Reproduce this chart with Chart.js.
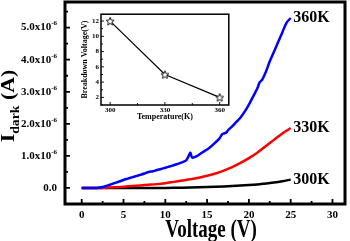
<!DOCTYPE html>
<html>
<head>
<meta charset="utf-8">
<script src="https://cdn.jsdelivr.net/npm/chart.js@4/dist/chart.umd.min.js"></script>
<style>
  html, body { margin: 0; padding: 0; background: #fff; }
  #wrap { position: relative; width: 350px; height: 241px; }
  #main { position: absolute; left: 0; top: 0; }
  #inset { position: absolute; left: 78px; top: 8px; }
</style>
</head>
<body>
<div id="wrap">
  <canvas id="main" width="350" height="241"></canvas>
  <canvas id="inset" width="157" height="114"></canvas>
</div>
<script>
// 주 그래프 데이터 (전압 V, 암전류 단위 10^-6 A)
const v360 = [0, 0.5, 1, 1.5, 2, 2.5, 3, 3.5, 4, 4.5, 5, 5.5, 6, 6.5, 7, 7.5, 8, 8.5, 9, 9.5, 10, 10.5, 11, 11.5, 12, 12.5, 12.8, 13.0, 13.2, 13.5, 14, 14.5, 15, 15.5, 16, 16.5, 16.8, 17, 17.3, 17.5, 18, 18.5, 19, 19.5, 20, 20.5, 21, 21.3, 21.6, 22, 22.5, 23, 23.5, 24, 24.5, 25];
const i360 = [0, 0, 0, 0, 0.01, 0.03, 0.07, 0.11, 0.16, 0.2, 0.25, 0.29, 0.33, 0.37, 0.41, 0.45, 0.5, 0.52, 0.56, 0.59, 0.63, 0.67, 0.71, 0.75, 0.8, 0.86, 1.0, 1.1, 0.95, 0.96, 1.03, 1.12, 1.2, 1.3, 1.42, 1.55, 1.68, 1.7, 1.73, 1.8, 1.92, 2.06, 2.2, 2.38, 2.6, 2.85, 3.1, 3.3, 3.38, 3.6, 3.95, 4.25, 4.55, 4.85, 5.15, 5.3];

const v330 = [0, 1, 2, 3, 4, 5, 6, 7, 8, 9, 10, 11, 12, 13, 14, 15, 16, 17, 18, 19, 20, 21, 22, 23, 24, 25];
const i330 = [0, 0, 0, 0.01, 0.02, 0.04, 0.06, 0.08, 0.1, 0.12, 0.15, 0.19, 0.23, 0.27, 0.32, 0.38, 0.45, 0.54, 0.65, 0.78, 0.93, 1.1, 1.3, 1.5, 1.7, 1.87];

const v300 = [0, 2, 4, 6, 8, 10, 12, 14, 16, 18, 20, 21, 22, 23, 24, 25];
const i300 = [0, 0, 0, 0, 0, 0, 0.01, 0.02, 0.04, 0.06, 0.09, 0.11, 0.14, 0.17, 0.21, 0.26];

const seriesNames = ['360K', '330K', '300K'];
const seriesColors = ['#0000ff', '#ff0000', '#000000'];

// 인셋 데이터
const insetTemps = [300, 330, 360];
const insetBreakdown = [12, 5, 2];

const xTicks = [0, 5, 10, 15, 20, 25, 30];
const yTicks = [0, 1, 2, 3, 4, 5];

const SERIF = '"Liberation Serif", "Times New Roman", serif';

function toPoints(xs, ys) {
    return xs.map((x, i) => ({ x: x, y: ys[i] }));
}

// 테두리 + 안쪽 눈금
function drawFrame(chart, lw, xStep, yStep, xMinor, yMinor, major, minor) {
    const ctx = chart.ctx;
    const a = chart.chartArea;
    const xs = chart.scales.x, ys = chart.scales.y;
    ctx.save();
    ctx.strokeStyle = '#000';
    ctx.lineWidth = lw * 0.6;
    ctx.beginPath();
    for (let v = Math.ceil(xs.min / xMinor) * xMinor; v <= xs.max; v += xMinor) {
        const px = xs.getPixelForValue(v);
        const len = Math.abs(v / xStep - Math.round(v / xStep)) < 1e-6 ? major : minor;
        ctx.moveTo(px, a.bottom);
        ctx.lineTo(px, a.bottom - len);
    }
    for (let v = Math.ceil(ys.min / yMinor) * yMinor; v <= ys.max; v += yMinor) {
        const py = ys.getPixelForValue(v);
        const len = Math.abs(v / yStep - Math.round(v / yStep)) < 1e-6 ? major : minor;
        ctx.moveTo(a.left, py);
        ctx.lineTo(a.left + len, py);
    }
    ctx.stroke();
    ctx.lineWidth = lw;
    ctx.strokeRect(a.left, a.top, a.right - a.left, a.bottom - a.top);
    ctx.restore();
}

const mainPlugin = {
    id: 'mainDecor',
    afterDraw(chart) {
        const ctx = chart.ctx;
        const ys = chart.scales.y, xs = chart.scales.x;
        drawFrame(chart, 3, 5, 1, 2.5, 0.5, 5, 3);

        // y 눈금 라벨 (지수 표기)
        ctx.save();
        ctx.fillStyle = '#000';
        ctx.textBaseline = 'middle';
        yTicks.forEach(v => {
            const py = ys.getPixelForValue(v);
            if (v === 0) {
                ctx.font = 'bold 11px ' + SERIF;
                ctx.textAlign = 'right';
                ctx.fillText('0.0', 57, py);
            } else {
                ctx.font = 'bold 7px ' + SERIF;
                const sup = '-6';
                const sw = ctx.measureText(sup).width;
                ctx.textAlign = 'right';
                ctx.fillText(sup, 57, py - 4);
                ctx.font = 'bold 11px ' + SERIF;
                ctx.fillText(v.toFixed(1) + 'x10', 57 - sw, py);
            }
        });

        // 시리즈 라벨
        ctx.font = 'bold 16px ' + SERIF;
        ctx.textAlign = 'left';
        chart.data.datasets.forEach(ds => {
            const last = ds.data[ds.data.length - 1];
            ctx.fillText(ds.label, xs.getPixelForValue(25.3), ys.getPixelForValue(last.y));
        });

        // x 축 제목
        ctx.save();
        ctx.translate((chart.chartArea.left + chart.chartArea.right) / 2 + 6, 237);
        ctx.scale(1, 1.3);
        ctx.textAlign = 'center';
        ctx.textBaseline = 'alphabetic';
        ctx.font = 'bold 19px ' + SERIF;
        ctx.fillText('Voltage (V)', 0, 0);
        ctx.restore();

        // y 축 제목 I_dark (A)
        ctx.translate(14, 106);
        ctx.rotate(-Math.PI / 2);
        ctx.scale(1.15, 1);
        ctx.textAlign = 'left';
        ctx.textBaseline = 'alphabetic';
        ctx.font = 'bold 19px ' + SERIF;
        const wI = ctx.measureText('I').width;
        const wA = ctx.measureText(' (A)').width;
        ctx.font = 'bold 12px ' + SERIF;
        const wD = ctx.measureText('dark').width;
        let x0 = -(wI + wD + wA) / 2;
        ctx.font = 'bold 19px ' + SERIF;
        ctx.fillText('I', x0, 0);
        ctx.font = 'bold 12px ' + SERIF;
        ctx.fillText('dark', x0 + wI, 5);
        ctx.font = 'bold 19px ' + SERIF;
        ctx.fillText(' (A)', x0 + wI + wD, 0);
        ctx.restore();
    }
};

new Chart(document.getElementById('main'), {
    type: 'scatter',
    data: {
        datasets: [
            { label: seriesNames[0], data: toPoints(v360, i360), borderColor: seriesColors[0] },
            { label: seriesNames[1], data: toPoints(v330, i330), borderColor: seriesColors[1] },
            { label: seriesNames[2], data: toPoints(v300, i300), borderColor: seriesColors[2] }
        ].map(ds => Object.assign(ds, {
            showLine: true,
            borderWidth: 2.5,
            pointRadius: 0,
            tension: 0.3
        }))
    },
    options: {
        responsive: false,
        animation: false,
        events: [],
        layout: { padding: { top: 2, right: 5, left: 0, bottom: 0 } },
        plugins: { legend: { display: false }, tooltip: { enabled: false } },
        scales: {
            x: {
                type: 'linear',
                min: -2,
                max: 31.5,
                grid: { display: false, drawTicks: false },
                border: { display: false },
                ticks: {
                    stepSize: 5,
                    includeBounds: false,
                    padding: 5,
                    color: '#000',
                    font: { family: SERIF, size: 11, weight: 'bold' },
                    maxRotation: 0
                },
                afterFit(s) { s.height = 37; }
            },
            y: {
                min: -0.5,
                max: 5.8,
                grid: { display: false, drawTicks: false },
                border: { display: false },
                ticks: { stepSize: 1, includeBounds: false, display: false },
                afterFit(s) { s.width = 65; }
            }
        }
    },
    plugins: [mainPlugin]
});

// 별 모양 마커
function makeStar(size) {
    const c = document.createElement('canvas');
    c.width = size; c.height = size;
    const g = c.getContext('2d');
    const cx = size / 2, cy = size / 2 + 0.5, R = size / 2 - 0.8, r = R * 0.45;
    g.beginPath();
    for (let k = 0; k < 10; k++) {
        const rad = k % 2 === 0 ? R : r;
        const ang = -Math.PI / 2 + k * Math.PI / 5;
        const px = cx + rad * Math.cos(ang), py = cy + rad * Math.sin(ang);
        if (k === 0) g.moveTo(px, py); else g.lineTo(px, py);
    }
    g.closePath();
    g.fillStyle = '#fff';
    g.fill();
    g.strokeStyle = '#000';
    g.lineWidth = 0.9;
    g.stroke();
    return c;
}

const insetPlugin = {
    id: 'insetDecor',
    beforeDraw(chart) {
        const a = chart.chartArea;
        chart.ctx.save();
        chart.ctx.fillStyle = '#fff';
        chart.ctx.fillRect(a.left, a.top, a.right - a.left, a.bottom - a.top);
        chart.ctx.restore();
    },
    afterDraw(chart) {
        drawFrame(chart, 1.5, 30, 2, 15, 1, 3, 2);
    }
};

new Chart(document.getElementById('inset'), {
    type: 'scatter',
    data: {
        datasets: [{
            data: toPoints(insetTemps, insetBreakdown),
            showLine: true,
            borderColor: '#000',
            borderWidth: 1.2,
            pointStyle: makeStar(10),
            pointRadius: 5
        }]
    },
    options: {
        responsive: false,
        animation: false,
        events: [],
        layout: { padding: { top: 5, right: 5, left: 2, bottom: 0 } },
        plugins: { legend: { display: false }, tooltip: { enabled: false } },
        scales: {
            x: {
                type: 'linear',
                min: 295,
                max: 365,
                grid: { display: false, drawTicks: false },
                border: { display: false },
                ticks: {
                    stepSize: 30,
                    includeBounds: false,
                    padding: 1,
                    color: '#000',
                    font: { family: SERIF, size: 7, weight: 'bold' },
                    maxRotation: 0
                },
                title: {
                    display: true,
                    text: 'Temperature(K)',
                    color: '#000',
                    padding: 0,
                    font: { family: SERIF, size: 8, weight: 'bold' }
                },
                afterFit(s) { s.height = 17; }
            },
            y: {
                min: 1,
                max: 12.9,
                grid: { display: false, drawTicks: false },
                border: { display: false },
                ticks: {
                    stepSize: 2,
                    includeBounds: false,
                    padding: 2,
                    color: '#000',
                    font: { family: SERIF, size: 7, weight: 'bold' }
                },
                title: {
                    display: true,
                    text: 'Breakdown Voltage(V)',
                    color: '#000',
                    padding: 0,
                    font: { family: SERIF, size: 8, weight: 'bold' }
                },
                afterFit(s) { s.width = 21; }
            }
        }
    },
    plugins: [insetPlugin]
});
</script>
</body>
</html>
